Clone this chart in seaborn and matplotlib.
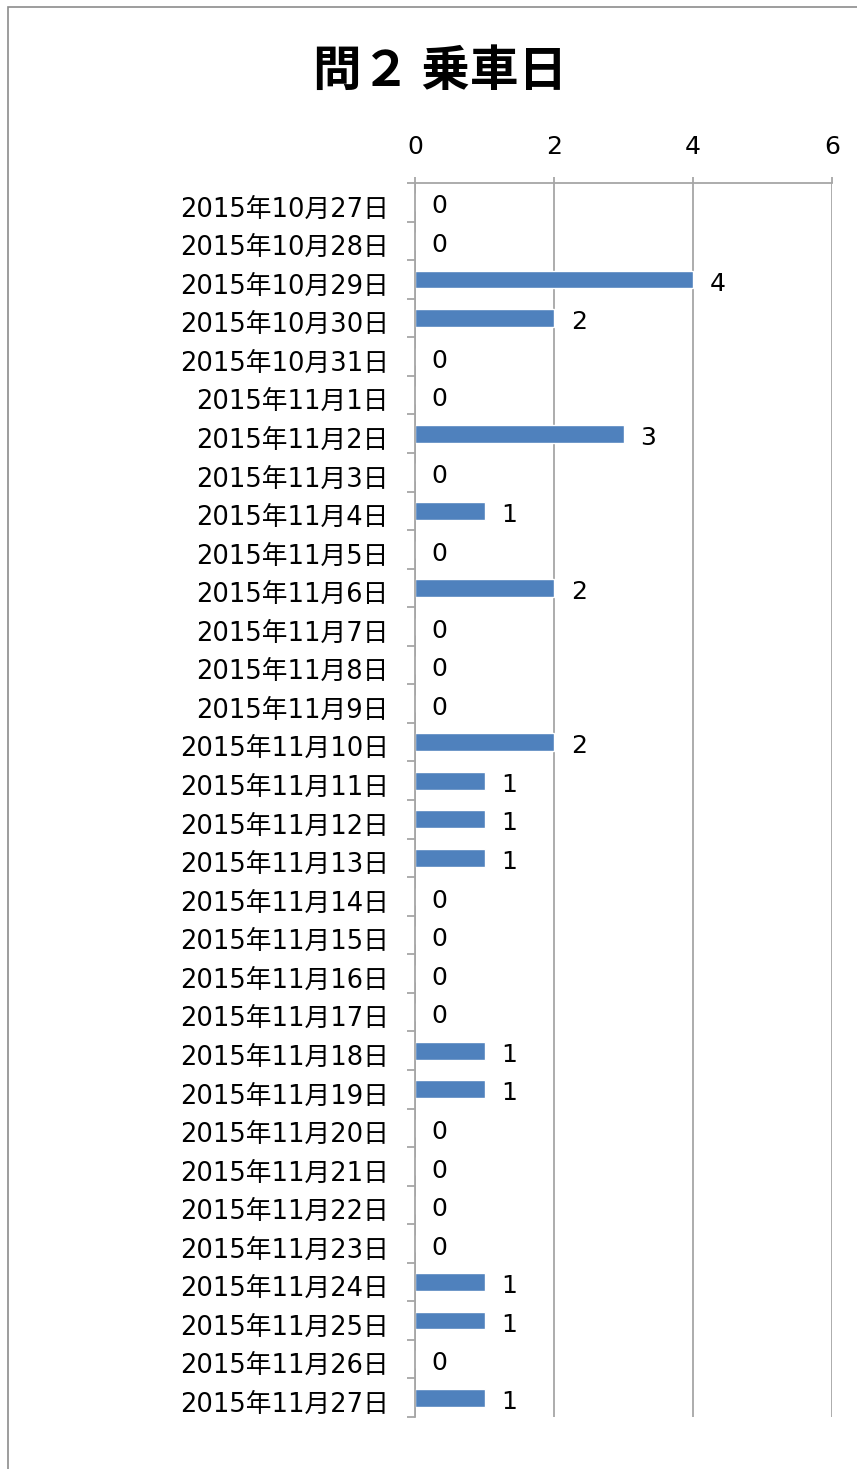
import numpy as np
import pandas as pd
import matplotlib
matplotlib.use('Agg')
import matplotlib.pyplot as plt
import matplotlib.transforms as mtransforms
from matplotlib.patches import Rectangle
from matplotlib.ticker import FixedLocator
import seaborn as sns

# 乗車日ごとの件数
dates = (['2015年10月%d日' % d for d in range(27, 32)] +
         ['2015年11月%d日' % d for d in range(1, 28)])
counts = [0, 0, 4, 2, 0, 0, 3, 0, 1, 0, 2, 0, 0, 0, 2, 1,
          1, 1, 0, 0, 0, 0, 1, 1, 0, 0, 0, 0, 1, 1, 0, 1]
xticks = [0, 2, 4, 6]

df = pd.DataFrame({'date': dates, 'count': counts})

sns.set_style('white')
plt.rcParams['font.family'] = ['DejaVu Sans', 'Noto Sans CJK JP']
plt.rcParams['text.color'] = 'black'
plt.rcParams['xtick.labelcolor'] = 'black'
plt.rcParams['ytick.labelcolor'] = 'black'

fig = plt.figure(figsize=(8.57, 14.69), dpi=100)
ax = fig.add_axes([0.4843, 0.0354, 0.4866, 0.84])

sns.barplot(data=df, x='count', y='date', orient='h', color='#4F81BD',
            width=0.46, saturation=1, ax=ax)

for c in ax.containers:
    for t in ax.bar_label(c, padding=12, fontsize=18, color='black'):
        t.xyann = (t.xyann[0], -3)

ax.set_xlim(0, 6)
ax.set_ylim(len(dates) - 0.5, -0.5)
ax.set_xticks(xticks)
ax.xaxis.tick_top()
ax.set_xlabel('')
ax.set_ylabel('')
ax.grid(axis='x', color='#A6A6A6', linewidth=1.3)
ax.grid(axis='y', visible=False)
ax.set_axisbelow(True)

for s in ['right', 'bottom']:
    ax.spines[s].set_visible(False)
for s in ['left', 'top']:
    ax.spines[s].set_color('#A6A6A6')
    ax.spines[s].set_linewidth(1.3)

ax.tick_params(axis='x', which='major', top=True, length=4, color='#A6A6A6',
               width=1.3, pad=13, labelsize=18)
ax.tick_params(axis='y', which='major', length=0, pad=19, labelsize=18.5)
ax.yaxis.set_minor_locator(FixedLocator(np.arange(-0.5, len(dates), 1)))
ax.tick_params(axis='y', which='minor', left=True, length=6, color='#A6A6A6',
               width=1.3)

# nudge the date labels down a little, like the original
shift = mtransforms.ScaledTranslation(0, -3 / 72, fig.dpi_scale_trans)
for lbl in ax.get_yticklabels():
    lbl.set_transform(lbl.get_transform() + shift)

fig.suptitle('問２ 乗車日', x=0.513, y=0.968, fontsize=35, fontweight='bold',
             color='black', family=['Noto Sans CJK JP', 'DejaVu Sans'])

fig.patches.append(Rectangle((8 / 857, -0.1), 1.2, 1 - 7 / 1469 + 0.1,
                             transform=fig.transFigure, fill=False,
                             edgecolor='#8C8C8C', linewidth=1.2))

fig.savefig('out.png', dpi=100)
